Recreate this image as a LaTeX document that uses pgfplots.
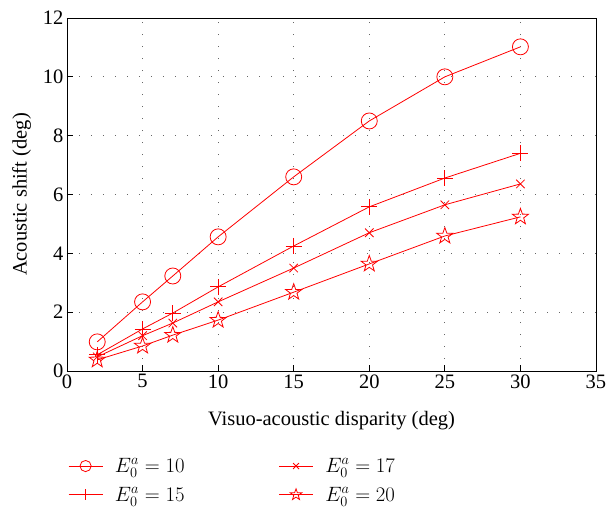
\documentclass[border=0pt]{standalone}
\usepackage{pgfplots}
\pgfplotsset{compat=1.18}
\usepackage{fontspec}
\setmainfont{Liberation Serif}
\usetikzlibrary{plotmarks}
\pgfdeclareplotmark{pentagram}{%
  \pgfpathmoveto{\pgfqpointpolar{90}{\pgfplotmarksize}}%
  \pgfpathlineto{\pgfqpointpolar{126}{0.4\pgfplotmarksize}}%
  \pgfpathlineto{\pgfqpointpolar{162}{\pgfplotmarksize}}%
  \pgfpathlineto{\pgfqpointpolar{198}{0.4\pgfplotmarksize}}%
  \pgfpathlineto{\pgfqpointpolar{234}{\pgfplotmarksize}}%
  \pgfpathlineto{\pgfqpointpolar{270}{0.4\pgfplotmarksize}}%
  \pgfpathlineto{\pgfqpointpolar{306}{\pgfplotmarksize}}%
  \pgfpathlineto{\pgfqpointpolar{342}{0.4\pgfplotmarksize}}%
  \pgfpathlineto{\pgfqpointpolar{18}{\pgfplotmarksize}}%
  \pgfpathlineto{\pgfqpointpolar{54}{0.4\pgfplotmarksize}}%
  \pgfpathclose\pgfusepathqstroke}
\begin{document}
\begin{tikzpicture}
\useasboundingbox (-67pt,-141pt) rectangle (539pt,371pt);
\begin{axis}[
  at={(0,0)}, anchor=south west,
  scale only axis, width=529pt, height=353pt,
  xmin=0, xmax=35, ymin=0, ymax=12,
  xtick={0,5,...,35}, ytick={0,2,...,12},
  tick align=inside,
  tick pos=left,
  major tick length=6pt,
  grid=major,
  major grid style={dash pattern=on 1pt off 11pt, gray!80!black, line width=0.8pt},
  axis line style={black, line width=0.8pt},
  tick style={black, line width=0.8pt},
  /pgf/number format/assume math mode=true,
  ticklabel style={font=\fontsize{20.5}{24}\selectfont},
  label style={font=\fontsize{20.5}{24}\selectfont},
  xlabel={Visuo-acoustic disparity (deg)},
  ylabel={Acoustic shift (deg)},
  xlabel style={yshift=-16pt},
  ylabel style={yshift=5pt},
  legend columns=2,
  transpose legend,
  legend style={draw=none, fill=none, at={(rel axis cs:0,0)}, anchor=north west,
    xshift=-2pt, yshift=-83pt, font=\fontsize{20.5}{24}\selectfont,
    row sep=9pt,
    /tikz/column 1/.style={column sep=10pt},
    /tikz/column 2/.style={column sep=92pt},
    /tikz/column 3/.style={column sep=10pt}},
  legend cell align=left,
  legend image code/.code={\draw[mark repeat=2,mark phase=2] plot coordinates {(0pt,0pt) (17pt,0pt) (34pt,0pt)};},
  legend image post style={every mark/.append style={scale=0.7}},
  every axis plot/.append style={red, line width=0.8pt},
]
\addplot[mark=o, mark size=8pt] coordinates {(2,0.99) (5,2.35) (7,3.23) (10,4.56) (15,6.6) (20,8.5) (25,10.0) (30,11.02)};
\addlegendentry{$E_0^a = 10$}
\addplot[mark=+, mark size=8pt] coordinates {(2,0.55) (5,1.43) (7,1.97) (10,2.86) (15,4.25) (20,5.58) (25,6.56) (30,7.4)};
\addlegendentry{$E_0^a = 15$}
\addplot[mark=x, mark size=6pt] coordinates {(2,0.48) (5,1.2) (7,1.63) (10,2.35) (15,3.5) (20,4.7) (25,5.65) (30,6.36)};
\addlegendentry{$E_0^a = 17$}
\addplot[mark=pentagram, mark size=8.5pt] coordinates {(2,0.38) (5,0.85) (7,1.22) (10,1.73) (15,2.68) (20,3.64) (25,4.59) (30,5.24)};
\addlegendentry{$E_0^a = 20$}
\end{axis}
\end{tikzpicture}
\end{document}
